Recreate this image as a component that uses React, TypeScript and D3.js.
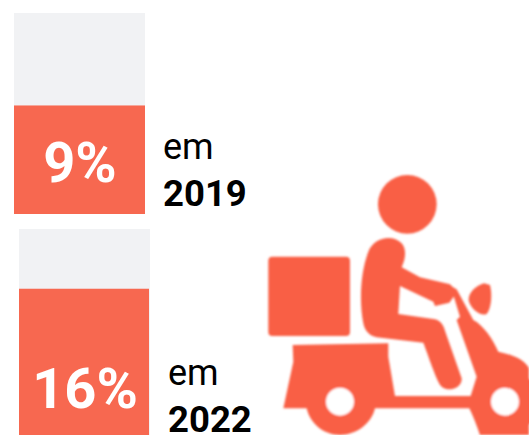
import React from 'react';
import * as d3 from 'd3';

// valores
const years = ['2019', '2022'];
const percents = [9, 16];
const fillShares = [0.54, 0.71]; // parte colorida de cada barra
const prefix = 'em';

const WIDTH = 529;
const HEIGHT = 435;
const ORANGE = '#f76850';
const TRACK = '#f1f2f4';
const ICON = '#f95f45';

// cada painel: barra + textos
const panels = [
  { x: 14, top: 13, bottom: 214, labelX: 163, emY: 159, yearY: 206, valueY: 182 },
  { x: 19, top: 229, bottom: 435, labelX: 168, emY: 385, yearY: 432, valueY: 408 },
];
const barWidth = 131;

function Bar({ index }: { index: number }) {
  const p = panels[index];
  const y = d3.scaleLinear().domain([0, 1]).range([p.bottom, p.top]);
  const x = d3.scaleBand().domain(['bar']).range([p.x, p.x + barWidth]);
  const bw = x.bandwidth();
  const bx = x('bar') as number;
  return (
    <g>
      <rect x={bx} y={y(1)} width={bw} height={y(0) - y(1)} fill={TRACK} />
      <rect x={bx} y={y(fillShares[index])} width={bw - index} height={y(0) - y(fillShares[index])} fill={ORANGE} />
      <text x={bx + bw / 2 + 0.5} y={p.valueY} textAnchor="middle" fill="#fff" fontWeight={700} fontSize={56}>
        {percents[index]}%
      </text>
      <text x={p.labelX} y={p.emY} fontSize={36} fill="#000">{prefix}</text>
      <text x={p.labelX} y={p.yearY} fontSize={36.5} fontWeight={700} fill="#000">{years[index]}</text>
    </g>
  );
}

// icone do entregador, em coordenadas proprias
function Scooter() {
  const body = 'M310 490 C298 430 300 340 325 275 C340 235 395 220 425 250 C442 270 435 300 425 322 L480 352 L570 373 L592 395 L568 428 L525 438 L520 425 L420 378 L415 462 L525 478 C545 483 552 500 556 515 L605 655 C608 680 570 700 545 680 C530 665 510 600 490 548 L350 532 C330 528 315 515 310 490 Z';
  const bike = 'M98 555 L385 550 L385 590 L405 708 L632 708 L650 650 L590 480 L600 470 L572 378 L590 388 L640 480 C670 495 700 540 715 575 C760 585 795 600 807 625 L807 825 L660 825 C650 795 640 770 628 745 L345 745 C335 790 290 825 240 825 C190 825 150 790 140 745 L70 745 L100 605 L98 555 Z';
  return (
    <g transform="translate(260,160) scale(0.3333)" fill={ICON} filter="url(#soft)">
      <circle cx={442} cy={133} r={88} />
      <rect x={25} y={290} width={245} height={238} rx={12} />
      <path d={body} />
      <path d="M672 370 C645 378 625 400 626 420 C630 445 660 470 680 462 C695 445 697 400 690 375 Z" />
      <path d={bike} />
      <circle cx={735} cy={725} r={100} />
      <circle cx={240} cy={725} r={42} fill="#fff" />
      <circle cx={735} cy={725} r={42} fill="#fff" />
    </g>
  );
}

export default function App() {
  return (
    <svg
      width={WIDTH}
      height={HEIGHT}
      viewBox={`0 0 ${WIDTH} ${HEIGHT}`}
      style={{ position: 'absolute', left: 0, top: 0, background: '#fff', fontFamily: 'Roboto' }}
    >
      <defs>
        <filter id="soft" x="-5%" y="-5%" width="110%" height="110%">
          <feGaussianBlur stdDeviation="3" />
        </filter>
      </defs>
      <Scooter />
      {years.map((_, i) => <Bar key={i} index={i} />)}
    </svg>
  );
}
